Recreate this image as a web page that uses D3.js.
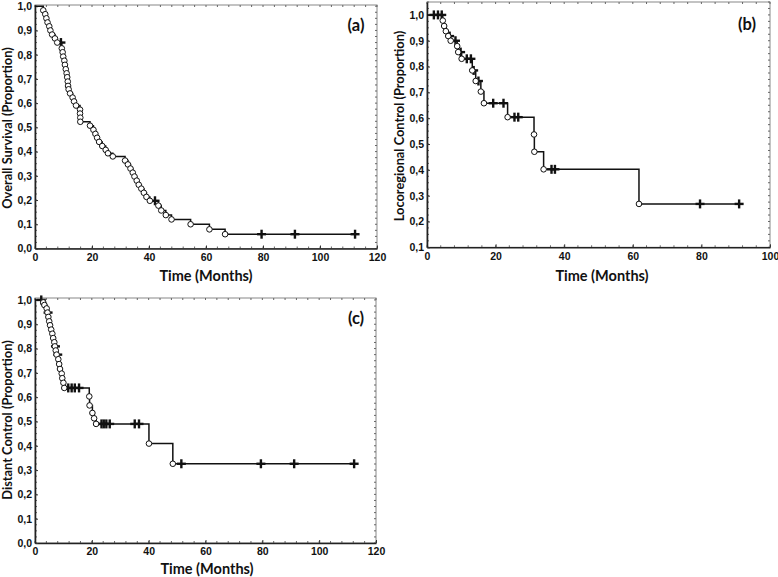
<!DOCTYPE html>
<html>
<head>
<meta charset="utf-8">
<script src="https://cdn.jsdelivr.net/npm/d3@7"></script>
<style>
  html, body { margin: 0; padding: 0; background: #fff; }
  svg { display: block; }
  .tick text { font-family: "Liberation Sans", Arial, sans-serif; font-weight: bold; font-size: 10.5px; fill: #111; }
  .title { font-family: Lato, "Open Sans", sans-serif; font-weight: bold; fill: #111; }
  .plabel { font-family: Lato, "Open Sans", sans-serif; font-weight: bold; font-size: 16.5px; fill: #111; }
</style>
</head>
<body>
<svg id="chart" width="778" height="577"></svg>
<script>
// ---------- Panel (a): Overall Survival ----------
const aEventTime = [2.9,3.6,4.0,4.4,5.0,5.4,6.0,7.0,7.8,
  9.4,9.7,9.9,10.3,10.5,10.8,11.1,11.3,11.5,11.6,11.8,12.3,13.2,13.7,14.4,
  15.8,15.8,15.9,15.9,
  19.3,20.5,21.2,21.8,22.5,23.6,24.8,25.6,27.3,
  31.6,32.6,33.5,34.3,34.9,35.7,36.4,37.3,38.2,39.1,40.3,
  43.3,44.3,45.9,47.9,54.6,61.2,66.7];
const aEventSurv = [.983,.967,.950,.933,.917,.900,.883,.867,.850,
  .826,.810,.792,.775,.758,.740,.723,.707,.689,.671,.657,.640,.623,.607,.590,
  .573,.557,.540,.523,
  .507,.490,.473,.457,.440,.423,.407,.393,.380,
  .363,.347,.330,.313,.297,.280,.263,.247,.230,.213,.197,
  .177,.157,.138,.120,.100,.079,.059];
const aCensTime = [9.1, 42.1, 79.5, 91.2, 112.3];
const aCensSurv = [.850, .197, .059, .059, .059];
const aXTicks = [0,20,40,60,80,100,120];
const aYTicks = [0,0.1,0.2,0.3,0.4,0.5,0.6,0.7,0.8,0.9,1.0];

// ---------- Panel (b): Locoregional Control ----------
const bEventTime = [4.6,5.0,5.5,6.2,6.9,8.8,9.1,10.1,13.2,14.2,15.7,16.6,23.5,31.2,31.3,34.0,61.8];
const bEventSurv = [.978,.957,.937,.918,.900,.879,.856,.830,.785,.744,.703,.658,.604,.537,.470,.402,.268];
const bCensTime = [2.0,3.2,4.3,6.6,8.3,9.8,11.6,12.8,13.6,15.0,19.3,22.3,25.5,26.6,36.3,37.3,79.6,91.0];
const bCensSurv = [1,1,1,.918,.900,.856,.830,.830,.785,.744,.658,.658,.604,.604,.402,.402,.268,.268];
const bXTicks = [0,20,40,60,80,100];
const bYTicks = [0.1,0.2,0.3,0.4,0.5,0.6,0.7,0.8,0.9,1.0];

// ---------- Panel (c): Distant Control ----------
const cEventTime = [2.9,3.3,4.1,4.4,4.7,5.0,5.3,5.7,6.1,6.4,6.8,7.0,7.3,7.6,8.2,8.5,8.8,9.4,9.6,10.0,10.3,
  19.1,19.2,20.2,20.8,21.5,40.1,48.5];
const cEventSurv = [.990,.979,.965,.948,.930,.912,.896,.878,.861,.843,.826,.809,.792,.775,.756,.736,.716,.697,.678,.659,.638,
  .603,.566,.535,.513,.490,.409,.326];
const cCensTime = [2.2,4.6,7.2,8.0,11.7,12.9,14.0,15.5,23.4,24.2,25.1,26.3,35.1,36.6,51.5,79.5,91.2,112.3];
const cCensSurv = [1.0,.948,.809,.775,.638,.638,.638,.638,.490,.490,.490,.490,.490,.490,.326,.326,.326,.326];
const cXTicks = [0,20,40,60,80,100,120];
const cYTicks = [0,0.1,0.2,0.3,0.4,0.5,0.6,0.7,0.8,0.9,1.0];

const xTitle = "Time (Months)";

const panels = [
  { label: "(a)", ytitle: "Overall Survival (Proportion)",
    evT: aEventTime, evS: aEventSurv, ceT: aCensTime, ceS: aCensSurv, xt: aXTicks, yt: aYTicks,
    xDom: [0,120], yDom: [0,1.005], left: 35, right: 377, top: 5, bottom: 248.5,
    ytx: 8, ytc: 128, lx: 356, ly: 31, xtx: 206, xty: 281 },
  { label: "(b)", ytitle: "Locoregional Control (Proportion)",
    evT: bEventTime, evS: bEventSurv, ceT: bCensTime, ceS: bCensSurv, xt: bXTicks, yt: bYTicks,
    xDom: [0,100], yDom: [0.1,1.05], left: 427, right: 770, top: 2, bottom: 247.3,
    ytx: 400, ytc: 126, lx: 747, ly: 30, xtx: 602, xty: 281 },
  { label: "(c)", ytitle: "Distant Control (Proportion)",
    evT: cEventTime, evS: cEventSurv, ceT: cCensTime, ceS: cCensSurv, xt: cXTicks, yt: cYTicks,
    xDom: [0,120], yDom: [0,1.008], left: 35, right: 376, top: 298, bottom: 543,
    ytx: 8, ytc: 420, lx: 356, ly: 324, xty: 574, xtx: 207 }
];

const svg = d3.select("#chart");
svg.append("rect").attr("width", 778).attr("height", 577).attr("fill", "#fff");
const fmt = d => d3.format(".1f")(d).replace(".", ",");

panels.forEach(p => {
  const g = svg.append("g");
  const x = d3.scaleLinear().domain(p.xDom).range([p.left, p.right]);
  const y = d3.scaleLinear().domain(p.yDom).range([p.bottom, p.top]);

  g.append("rect")
    .attr("x", p.left).attr("y", p.top)
    .attr("width", p.right - p.left).attr("height", p.bottom - p.top)
    .attr("fill", "none").attr("stroke", "#888").attr("stroke-width", 1);

  const xMinor = d3.range(p.xDom[0], p.xDom[1] + 0.001, (p.xDom[1] - p.xDom[0]) / (p.xDom[1] === 100 ? 25 : 30));
  const yMinor = d3.range(Math.ceil(p.yDom[0] * 40) / 40, p.yDom[1] + 0.0001, 0.025);
  const mt = g.append("g").attr("stroke", "#666").attr("stroke-width", 1);
  xMinor.forEach(v => {
    mt.append("line").attr("x1", x(v)).attr("x2", x(v)).attr("y1", p.bottom).attr("y2", p.bottom - 2);
    mt.append("line").attr("x1", x(v)).attr("x2", x(v)).attr("y1", p.top).attr("y2", p.top + 2);
  });
  yMinor.forEach(v => {
    mt.append("line").attr("y1", y(v)).attr("y2", y(v)).attr("x1", p.left).attr("x2", p.left + 2);
    mt.append("line").attr("y1", y(v)).attr("y2", y(v)).attr("x1", p.right).attr("x2", p.right - 2);
  });

  const xa = g.append("g").attr("transform", `translate(0,${p.bottom})`)
    .call(d3.axisBottom(x).tickValues(p.xt).tickFormat(d3.format("d")).tickSizeInner(-3).tickSizeOuter(0).tickPadding(5));
  const ya = g.append("g").attr("transform", `translate(${p.left},0)`)
    .call(d3.axisLeft(y).tickValues(p.yt).tickFormat(fmt).tickSizeInner(-3).tickSizeOuter(0).tickPadding(3));
  [xa, ya].forEach(a => {
    a.select(".domain").attr("stroke", "#222").attr("stroke-width", 1.6);
    a.selectAll(".tick line").attr("stroke", "#333");
  });

  g.append("text").attr("class", "title").style("font-size", "14.5px")
    .attr("x", p.xtx).attr("y", p.xty).attr("text-anchor", "middle").text(xTitle);
  g.append("text").attr("class", "title").style("font-size", "12.8px")
    .attr("transform", `translate(${p.ytx},${p.ytc}) rotate(-90)`)
    .attr("text-anchor", "middle").attr("dy", "0.35em").text(p.ytitle);
  g.append("text").attr("class", "plabel").attr("x", p.lx).attr("y", p.ly)
    .attr("text-anchor", "middle").text(p.label);

  const pts = [[0, 1]];
  p.evT.forEach((t, i) => pts.push([t, p.evS[i]]));
  const tEnd = d3.max(p.ceT);
  pts.push([tEnd, p.evS[p.evS.length - 1]]);
  const line = d3.line().x(d => x(d[0])).y(d => y(d[1])).curve(d3.curveStepAfter);
  g.append("path").datum(pts).attr("d", line)
    .attr("fill", "none").attr("stroke", "#111").attr("stroke-width", 1.5);

  const cg = g.append("g").attr("stroke", "#111").attr("stroke-width", 2.4);
  p.ceT.forEach((t, i) => {
    const cx = x(t), cy = y(p.ceS[i]);
    cg.append("line").attr("x1", cx - 4.5).attr("x2", cx + 4.5).attr("y1", cy).attr("y2", cy);
    cg.append("line").attr("x1", cx).attr("x2", cx).attr("y1", cy - 4.5).attr("y2", cy + 4.5);
  });

  g.append("g").selectAll("circle").data(p.evT.map((t, i) => [t, p.evS[i]])).join("circle")
    .attr("cx", d => x(d[0])).attr("cy", d => y(d[1])).attr("r", 2.8)
    .attr("fill", "#fff").attr("stroke", "#111").attr("stroke-width", 1);
});
</script>
</body>
</html>
